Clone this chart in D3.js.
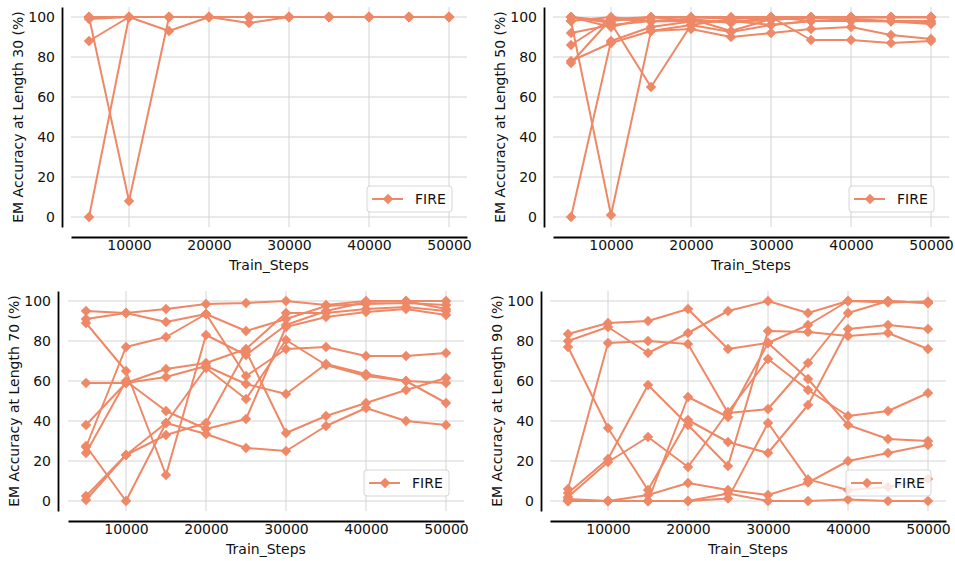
<!DOCTYPE html>
<html>
<head>
<meta charset="utf-8">
<script src="https://cdn.jsdelivr.net/npm/d3@7"></script>
<style>
  body { margin: 0; background: #fff; }
  svg { display: block; font-family: "DejaVu Sans", sans-serif; }
</style>
</head>
<body>
<script>
// training steps on the x axis
var steps = [5000, 10000, 15000, 20000, 25000, 30000, 35000, 40000, 45000, 50000];
var xTicks = [10000, 20000, 30000, 40000, 50000];
var yTicks = [0, 20, 40, 60, 80, 100];
var lengths = [30, 50, 70, 90];
var seriesName = "FIRE";

// one row per run (seed)
var acc30 = [
  [0, 100, 100, 100, 100, 100, 100, 100, 100, 100],
  [100, 8, 100, 100, 100, 100, 100, 100, 100, 100],
  [88, 100, 93, 100, 97, 100, 100, 100, 100, 100],
  [100, 100, 100, 100, 100, 100, 100, 100, 100, 100],
  [99, 100, 100, 100, 100, 100, 100, 100, 100, 100],
  [100, 100, 100, 100, 100, 100, 100, 100, 100, 100],
  [100, 100, 100, 100, 100, 100, 100, 100, 100, 100]
];
var acc50 = [
  [0, 88, 95, 97.7, 97.7, 98.5, 100, 100, 100, 100],
  [98, 1, 93, 96, 99, 100, 98, 98, 98, 97],
  [100, 97, 65, 96, 92.5, 96, 98, 99, 98, 98],
  [78, 87, 93, 94, 90, 92, 94, 95, 91, 89],
  [77, 99, 98, 99, 97, 100, 88.5, 88.5, 87, 88],
  [86, 99, 100, 100, 100, 100, 100, 100, 100, 100],
  [92, 96, 98, 97.7, 98, 96, 98, 98, 97.7, 96.5],
  [100, 98, 100, 98, 97.7, 98.5, 100, 100, 100, 100],
  [98, 100, 97.7, 99, 93, 99, 99.5, 99.8, 99.8, 99.8],
  [100, 95, 99.8, 99.8, 99.3, 99.8, 99.8, 99.8, 100, 100]
];
var acc70 = [
  [95, 94, 96, 98.5, 99, 100, 98, 100, 100, 100],
  [91, 94, 89.5, 93.5, 85, 91, 97.5, 98.5, 99, 98],
  [89, 65, 13, 83, 73, 88, 95, 99.5, 100, 96],
  [27, 77, 82, 93.5, 62.5, 76, 77, 72.5, 72.5, 74],
  [59, 59, 66, 69, 76, 94, 94, 96, 97, 95],
  [38, 59, 62, 67.5, 58.5, 53.5, 68.5, 63.5, 60, 49],
  [24, 60, 45, 36, 41, 87, 92, 94.5, 96, 93],
  [2.5, 23, 39, 66.5, 51, 80.5, 68, 62.5, 60, 59],
  [0.5, 23, 33, 39, 75, 34, 42.5, 49, 55.5, 61.5],
  [27.5, 0, 39, 33.5, 26.5, 25, 37.5, 46.5, 40, 38]
];
var acc90 = [
  [83.5, 89, 90, 96, 76, 79, 88, 100, 100, 99],
  [80, 87, 74, 84, 95, 100, 94, 100, 99.3, 99.7],
  [77, 36.5, 5.5, 40.5, 29.5, 24, 48, 86, 88, 86],
  [6, 79, 80, 78.5, 44, 46, 69, 94, 100, 99],
  [4, 21, 58, 38, 17.5, 85, 84.5, 82.5, 84, 76],
  [2, 19.5, 32, 17, 44.5, 71, 55.5, 42.5, 45, 54],
  [1, 0, 3, 9, 5.5, 3, 9.2, 20, 24, 28],
  [0, 0, 0, 52, 42, 79, 61, 38, 31, 30],
  [0, 0, 0, 0, 1.3, 39, 10.8, 5.5, 7, 11],
  [0, 0, 0, 0, 3.8, 0, 0, 0.8, 0, 0]
];
var allRuns = [acc30, acc50, acc70, acc90];

var color = "#ee8866";

// panel boxes (plot area) and where the offset spines sit
var panels = [
  {x0: 71, x1: 467, y0: 7, y1: 227, spineX: 62, spineY: 237, labelX: 18},
  {x0: 553, x1: 949, y0: 7, y1: 227, spineX: 544, spineY: 237, labelX: 500},
  {x0: 68, x1: 464, y0: 291, y1: 511, spineX: 58, spineY: 521, labelX: 14},
  {x0: 550, x1: 946, y0: 291, y1: 511, spineX: 541, spineY: 521, labelX: 497}
];

var svg = d3.select("body").append("svg").attr("width", 955).attr("height", 561);

// matplotlib style 'D' marker: a square turned 45 degrees
var diamond = {
  draw: function(ctx, size) {
    var r = Math.sqrt(size) / 2;
    ctx.moveTo(0, -r); ctx.lineTo(r, 0); ctx.lineTo(0, r); ctx.lineTo(-r, 0); ctx.closePath();
  }
};
var marker = d3.symbol().type(diamond).size(110);

for (var p = 0; p < 4; p++) {
  var box = panels[p];
  var runs = allRuns[p];

  var x = d3.scaleLinear().domain([2750, 52250]).range([box.x0, box.x1]);
  var y = d3.scaleLinear().domain([-5, 105]).range([box.y1, box.y0]);

  var g = svg.append("g").attr("class", "panel" + p);

  // grid
  g.append("g").selectAll("line.gx").data(xTicks).enter().append("line")
    .attr("x1", function(d) { return x(d); }).attr("x2", function(d) { return x(d); })
    .attr("y1", box.y0).attr("y2", box.y1)
    .attr("stroke", "#d4d4d4").attr("stroke-width", 1);
  g.append("g").selectAll("line.gy").data(yTicks).enter().append("line")
    .attr("y1", function(d) { return y(d); }).attr("y2", function(d) { return y(d); })
    .attr("x1", box.x0).attr("x2", box.x1)
    .attr("stroke", "#d4d4d4").attr("stroke-width", 1);

  // axes, domain path doubles as the offset spine
  var xa = g.append("g").attr("transform", "translate(0," + box.spineY + ")")
    .call(d3.axisBottom(x).tickValues(xTicks).tickSize(0).tickPadding(3).tickFormat(d3.format("d")));
  var ya = g.append("g").attr("transform", "translate(" + box.spineX + ",0)")
    .call(d3.axisLeft(y).tickValues(yTicks).tickSize(0).tickPadding(7));
  [xa, ya].forEach(function(a) {
    a.attr("font-family", "DejaVu Sans").attr("font-size", 14);
    a.select(".domain").attr("stroke", "#000").attr("stroke-width", 1.8);
    a.selectAll("text").attr("fill", "#111");
  });

  g.append("text")
    .attr("x", (box.x0 + box.x1) / 2).attr("y", box.spineY + 33)
    .attr("text-anchor", "middle").attr("font-size", 14).attr("fill", "#111")
    .text("Train_Steps");
  g.append("text")
    .attr("transform", "translate(" + box.labelX + "," + (box.y0 + box.y1) / 2 + ") rotate(-90)")
    .attr("text-anchor", "middle").attr("dominant-baseline", "central")
    .attr("font-size", 14).attr("fill", "#111")
    .text("EM Accuracy at Length " + lengths[p] + " (%)");

  var line = d3.line()
    .x(function(d, i) { return x(steps[i]); })
    .y(function(d) { return y(d); });

  // each run: line then its markers, in order
  runs.forEach(function(run, r) {
    var rg = g.append("g").attr("class", "run" + r);
    rg.append("path").attr("d", line(run))
      .attr("fill", "none").attr("stroke", color).attr("stroke-width", 2)
      .attr("stroke-linejoin", "round");
    rg.selectAll("path.m").data(run).enter().append("path")
      .attr("class", "m")
      .attr("d", marker)
      .attr("transform", function(d, i) { return "translate(" + x(steps[i]) + "," + y(d) + ")"; })
      .attr("fill", color);
  });

  // legend, lower right
  var lw = 85, lh = 26;
  var lx = box.x1 - 15 - lw, ly = box.y1 - 15 - lh;
  var lg = g.append("g").attr("transform", "translate(" + lx + "," + ly + ")");
  lg.append("rect").attr("width", lw).attr("height", lh).attr("rx", 3)
    .attr("fill", "#fff").attr("fill-opacity", 0.8)
    .attr("stroke", "#d6d6d6").attr("stroke-width", 1);
  lg.append("line").attr("x1", 5).attr("x2", 36).attr("y1", lh / 2).attr("y2", lh / 2)
    .attr("stroke", color).attr("stroke-width", 2);
  lg.append("path").attr("d", marker).attr("transform", "translate(21," + lh / 2 + ")").attr("fill", color);
  lg.append("text").attr("x", 48).attr("y", lh / 2 + 5)
    .attr("font-size", 14).attr("fill", "#111").text(seriesName);
}
</script>
</body>
</html>
